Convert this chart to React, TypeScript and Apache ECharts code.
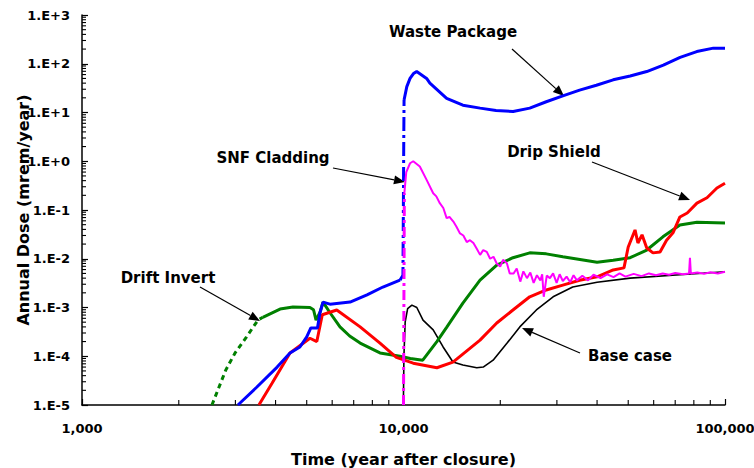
import React, { useEffect, useRef } from "react";
import * as echarts from "echarts";

// ---- Data (time in years, dose in mrem/year) ----
const wasteSolidA: [number, number][] = [
  [3055, 1.0e-5], [3500, 2.34e-5], [4045, 6.0e-5], [4436, 1.17e-4], [4762, 1.55e-4],
  [5000, 2.5e-4], [5150, 3.8e-4], [5400, 3.8e-4], [5500, 7.9e-4], [5620, 1.29e-3],
  [5905, 1.17e-3], [6820, 1.29e-3], [7700, 1.82e-3], [8630, 2.63e-3], [9750, 3.63e-3],
];
const wasteJump: [number, number][] = [
  [9750, 3.63e-3], [9960, 4.6e-3], [9990, 1.0e-1], [10020, 3.0], [10040, 18],
];
const wasteSolidB: [number, number][] = [
  [10040, 18], [10240, 34], [10480, 50], [10740, 63], [10990, 69], [11800, 50],
  [12080, 40], [13620, 19.5], [15300, 14.1], [17310, 12.3], [19400, 11.0],
  [21930, 10.5], [24700, 12.3], [27800, 16.6], [31300, 21.9], [35300, 28.8],
  [39800, 36.3], [44900, 46.8], [50700, 56.2], [57100, 69.2], [64300, 93.3],
  [72500, 135], [81700, 178], [92000, 209], [100000, 209],
];

const invertDashed: [number, number][] = [
  [2536, 1.0e-5], [2800, 5.2e-5], [2993, 1.17e-4], [3250, 2.5e-4], [3525, 5.5e-4], [3650, 6.3e-4],
];
const invertSolid: [number, number][] = [
  [3650, 6.3e-4], [4130, 9.3e-4], [4530, 1.02e-3], [5117, 1.0e-3], [5250, 9.0e-4],
  [5345, 5.5e-4], [5500, 8.0e-4], [5620, 1.29e-3], [5900, 7.9e-4], [6345, 4.0e-4],
  [6800, 2.6e-4], [7330, 1.86e-4], [8450, 1.17e-4], [9750, 1.0e-4], [10500, 9.0e-5],
  [11480, 8.3e-5], [12700, 2.0e-4], [13650, 4.0e-4], [15300, 1.23e-3], [17300, 3.63e-3],
  [19500, 7.4e-3], [21900, 1.05e-2], [24700, 1.32e-2], [27800, 1.26e-2], [31300, 1.1e-2],
  [40000, 8.5e-3], [44900, 9.3e-3], [50700, 1.05e-2], [57100, 1.51e-2], [64100, 2.82e-2],
  [72400, 4.9e-2], [81800, 5.6e-2], [100000, 5.4e-2],
];

const dripShield: [number, number][] = [
  [3550, 1.0e-5], [3900, 2.8e-5], [4436, 1.17e-4], [5117, 2.34e-4], [5375, 2.0e-4],
  [5590, 7.1e-4], [6200, 8.9e-4], [7330, 4.0e-4], [8450, 1.86e-4], [9500, 9.5e-5],
  [10720, 7.2e-5], [12700, 5.8e-5], [14250, 7.6e-5], [17300, 2.14e-4], [19500, 4.8e-4],
  [21900, 8.9e-4], [24700, 1.66e-3], [27800, 2.29e-3], [31300, 2.88e-3], [35300, 3.63e-3],
  [40000, 4.27e-3], [44900, 5.9e-3], [48500, 6.5e-3], [50000, 1.74e-2], [52500, 3.9e-2],
  [53600, 2.1e-2], [55200, 3.1e-2], [57100, 1.66e-2], [59700, 1.32e-2], [62800, 1.38e-2],
  [65800, 2.4e-2], [68900, 3.4e-2], [72400, 7.2e-2], [76300, 8.7e-2], [81800, 1.38e-1],
  [87900, 1.78e-1], [94400, 2.82e-1], [100000, 3.55e-1],
];

const claddingJump: [number, number][] = [
  [10000, 1.0e-5], [10060, 2.2e-1],
];
const claddingSolid: [number, number][] = [
  [10060, 2.2e-1], [10200, 6.0e-1], [10480, 9.1e-1], [10720, 1.0], [11240, 7.8e-1],
  [11790, 4.2e-1], [12370, 2.2e-1], [12650, 1.9e-1], [12970, 1.38e-1], [13300, 1.1e-1],
  [13620, 6.8e-2], [13900, 7.2e-2], [14290, 5.8e-2], [14600, 4.6e-2], [14990, 3.3e-2],
  [15350, 3.0e-2], [15730, 2.2e-2], [16100, 2.4e-2], [16500, 2.1e-2], [16900, 1.6e-2],
  [17310, 1.2e-2], [17700, 1.5e-2], [18160, 1.38e-2], [18600, 1.0e-2], [19050, 1.1e-2],
  [19500, 8.0e-3], [19990, 6.9e-3], [20400, 9.5e-3], [20970, 8.1e-3], [21400, 5.0e-3],
  [22000, 5.0e-3], [22500, 6.3e-3], [23080, 3.4e-3], [23600, 5.5e-3], [24210, 4.0e-3],
  [24800, 5.2e-3], [25400, 3.2e-3], [26000, 4.6e-3], [26650, 3.6e-3], [27000, 4.8e-3],
  [27300, 1.66e-3], [27900, 4.5e-3], [28540, 4.0e-3], [29200, 5.0e-3], [29940, 3.2e-3],
  [30600, 4.8e-3], [31300, 3.5e-3], [32160, 4.3e-3], [33000, 3.3e-3], [33800, 4.6e-3],
  [34620, 3.6e-3], [36000, 4.5e-3], [37500, 3.6e-3], [39000, 4.7e-3], [41000, 4.0e-3],
  [43000, 4.8e-3], [45000, 4.2e-3], [47000, 5.0e-3], [49000, 4.3e-3], [52000, 4.9e-3],
  [55000, 4.4e-3], [58000, 5.0e-3], [61000, 4.6e-3], [64000, 5.0e-3], [67000, 4.7e-3],
  [70000, 5.1e-3], [74000, 4.8e-3], [77300, 5.0e-3], [77800, 1.05e-2], [78300, 5.0e-3],
  [82000, 5.2e-3], [86000, 4.9e-3], [90000, 5.3e-3], [95000, 5.0e-3], [100000, 5.4e-3],
];

const baseCase: [number, number][] = [
  [9990, 1.0e-5], [10030, 1.0e-4], [10120, 5.0e-4], [10300, 9.5e-4], [10620, 1.12e-3],
  [11000, 1.0e-3], [11500, 5.5e-4], [12370, 3.47e-4], [13280, 1.55e-4], [14250, 7.6e-5],
  [15300, 6.6e-5], [16900, 5.8e-5], [17700, 6.0e-5], [19000, 8.3e-5], [21000, 1.86e-4],
  [23000, 4.0e-4], [25900, 8.9e-4], [29200, 1.66e-3], [33600, 2.63e-3], [40000, 3.3e-3],
  [50700, 4.0e-3], [72400, 4.7e-3], [100000, 5.4e-3],
];

const xMinorTicks = [2000, 3000, 4000, 5000, 6000, 7000, 8000, 9000,
  20000, 30000, 40000, 50000, 60000, 70000, 80000, 90000];
const yDecades = [1e-5, 1e-4, 1e-3, 1e-2, 1e-1, 1, 10, 100];
const yMinorMultipliers = [2, 3, 4, 5, 6, 7, 8, 9];

const FONT = "DejaVu Sans";

type Ann = { text: string; tx: number; ty: number; x1: number; y1: number; x2: number; y2: number };
const annotations: Ann[] = [
  { text: "Waste Package", tx: 453, ty: 32, x1: 512, y1: 49, x2: 564, y2: 96 },
  { text: "SNF Cladding", tx: 273, ty: 158, x1: 333, y1: 168, x2: 405, y2: 182 },
  { text: "Drip Shield", tx: 554, ty: 152, x1: 592, y1: 162, x2: 690, y2: 200 },
  { text: "Drift Invert", tx: 168, ty: 278, x1: 200, y1: 287, x2: 260, y2: 321 },
  { text: "Base case", tx: 630, ty: 356, x1: 580, y1: 353, x2: 522, y2: 328 },
];

function arrowGraphic(a: Ann) {
  const dx = a.x2 - a.x1, dy = a.y2 - a.y1;
  const len = Math.sqrt(dx * dx + dy * dy);
  const ux = dx / len, uy = dy / len;
  const hl = 11, hw = 4.5;
  const bx = a.x2 - ux * hl, by = a.y2 - uy * hl;
  return [
    {
      type: "text",
      style: {
        text: a.text, x: a.tx, y: a.ty, textAlign: "center", textVerticalAlign: "middle",
        fontFamily: FONT, fontWeight: "bold", fontSize: 15, fill: "#000",
      },
    },
    {
      type: "line",
      shape: { x1: a.x1, y1: a.y1, x2: bx, y2: by },
      style: { stroke: "#000", lineWidth: 1.2 },
    },
    {
      type: "polygon",
      shape: { points: [[a.x2, a.y2], [bx - uy * hw, by + ux * hw], [bx + uy * hw, by - ux * hw]] },
      style: { fill: "#000" },
    },
  ];
}

function fmtY(v: number) {
  const e = Math.round(Math.log10(v));
  return "1.E" + (e >= 0 ? "+" : "-") + Math.abs(e);
}
function fmtX(v: number) {
  const n = Math.round(v);
  return String(n).replace(/\B(?=(\d{3})+(?!\d))/g, ",");
}

export default function App() {
  const ref = useRef<HTMLDivElement>(null);
  useEffect(() => {
    if (!ref.current) return;
    const chart = echarts.init(ref.current, undefined, { renderer: "svg" });

    const line = (data: [number, number][], color: string, width: number, type: any = "solid", z = 2) => ({
      type: "line",
      data,
      showSymbol: false,
      symbol: "none",
      z,
      lineStyle: { color, width, type },
      itemStyle: { color },
      silent: true,
    });

    chart.setOption({
      animation: false,
      grid: { left: 82, right: 29, top: 15, bottom: 63, outerBoundsMode: "none", containLabel: false },
      xAxis: {
        type: "log",
        logBase: 10,
        min: 1000,
        max: 100000,
        splitNumber: 2,
        name: "Time (year after closure)",
        nameLocation: "middle",
        nameGap: 46,
        nameMoveOverlap: false,
        nameTextStyle: { fontFamily: FONT, fontWeight: "bold", fontSize: 16, color: "#000" },
        axisLine: { lineStyle: { color: "#000", width: 1.5 } },
        axisTick: { inside: true, length: 6, lineStyle: { color: "#000", width: 1.2 } },
        axisLabel: {
          formatter: fmtX, margin: 17, color: "#000",
          fontFamily: FONT, fontWeight: "bold", fontSize: 13,
        },
        splitLine: { show: false },
      },
      yAxis: {
        type: "log",
        logBase: 10,
        min: 1e-5,
        max: 1000,
        splitNumber: 8,
        name: "Annual Dose (mrem/year)",
        nameLocation: "middle",
        nameGap: 51,
        nameRotate: 90,
        nameMoveOverlap: false,
        nameTextStyle: { fontFamily: FONT, fontWeight: "bold", fontSize: 16, color: "#000" },
        axisLine: { show: true, lineStyle: { color: "#000", width: 1.5 } },
        axisTick: { show: true, inside: true, length: 6, lineStyle: { color: "#000", width: 1.2 } },
        axisLabel: {
          formatter: fmtY, margin: 12, color: "#000",
          fontFamily: FONT, fontWeight: "bold", fontSize: 13,
        },
        splitLine: { show: false },
      },
      series: [
        line(invertDashed, "#008000", 3, [5, 4]),
        line(invertSolid, "#008000", 3),
        line(wasteSolidA, "#0000FF", 3, "solid", 3),
        line(wasteJump, "#0000FF", 3, [14, 4, 3, 4], 3),
        line(wasteSolidB, "#0000FF", 3, "solid", 3),
        line(dripShield, "#FF0000", 3),
        line(claddingJump, "#FF00FF", 3, [10, 4, 3, 4], 4),
        line(claddingSolid, "#FF00FF", 2, "solid", 4),
        line(baseCase, "#000000", 1.6, "solid", 1),
      ],
    });

    // minor ticks placed through the chart's own axis scales
    const tickEls: any[] = [];
    xMinorTicks.forEach((t) => {
      const p = chart.convertToPixel({ gridIndex: 0 }, [t, 1e-5]) as number[];
      tickEls.push({
        type: "line", silent: true, z: 50,
        shape: { x1: p[0], y1: p[1], x2: p[0], y2: p[1] - 5 },
        style: { stroke: "#000", lineWidth: 1.1 },
      });
    });
    yDecades.forEach((d) => yMinorMultipliers.forEach((m) => {
      const p = chart.convertToPixel({ gridIndex: 0 }, [1000, d * m]) as number[];
      tickEls.push({
        type: "line", silent: true, z: 50,
        shape: { x1: p[0], y1: p[1], x2: p[0] + 4, y2: p[1] },
        style: { stroke: "#000", lineWidth: 1.1 },
      });
    }));

    chart.setOption({ graphic: [...annotations.flatMap(arrowGraphic), ...tickEls] });
    return () => chart.dispose();
  }, []);
  return (
    <div
      ref={ref}
      style={{ position: "fixed", left: 0, top: 0, width: 754, height: 468, background: "#fff" }}
    />
  );
}
